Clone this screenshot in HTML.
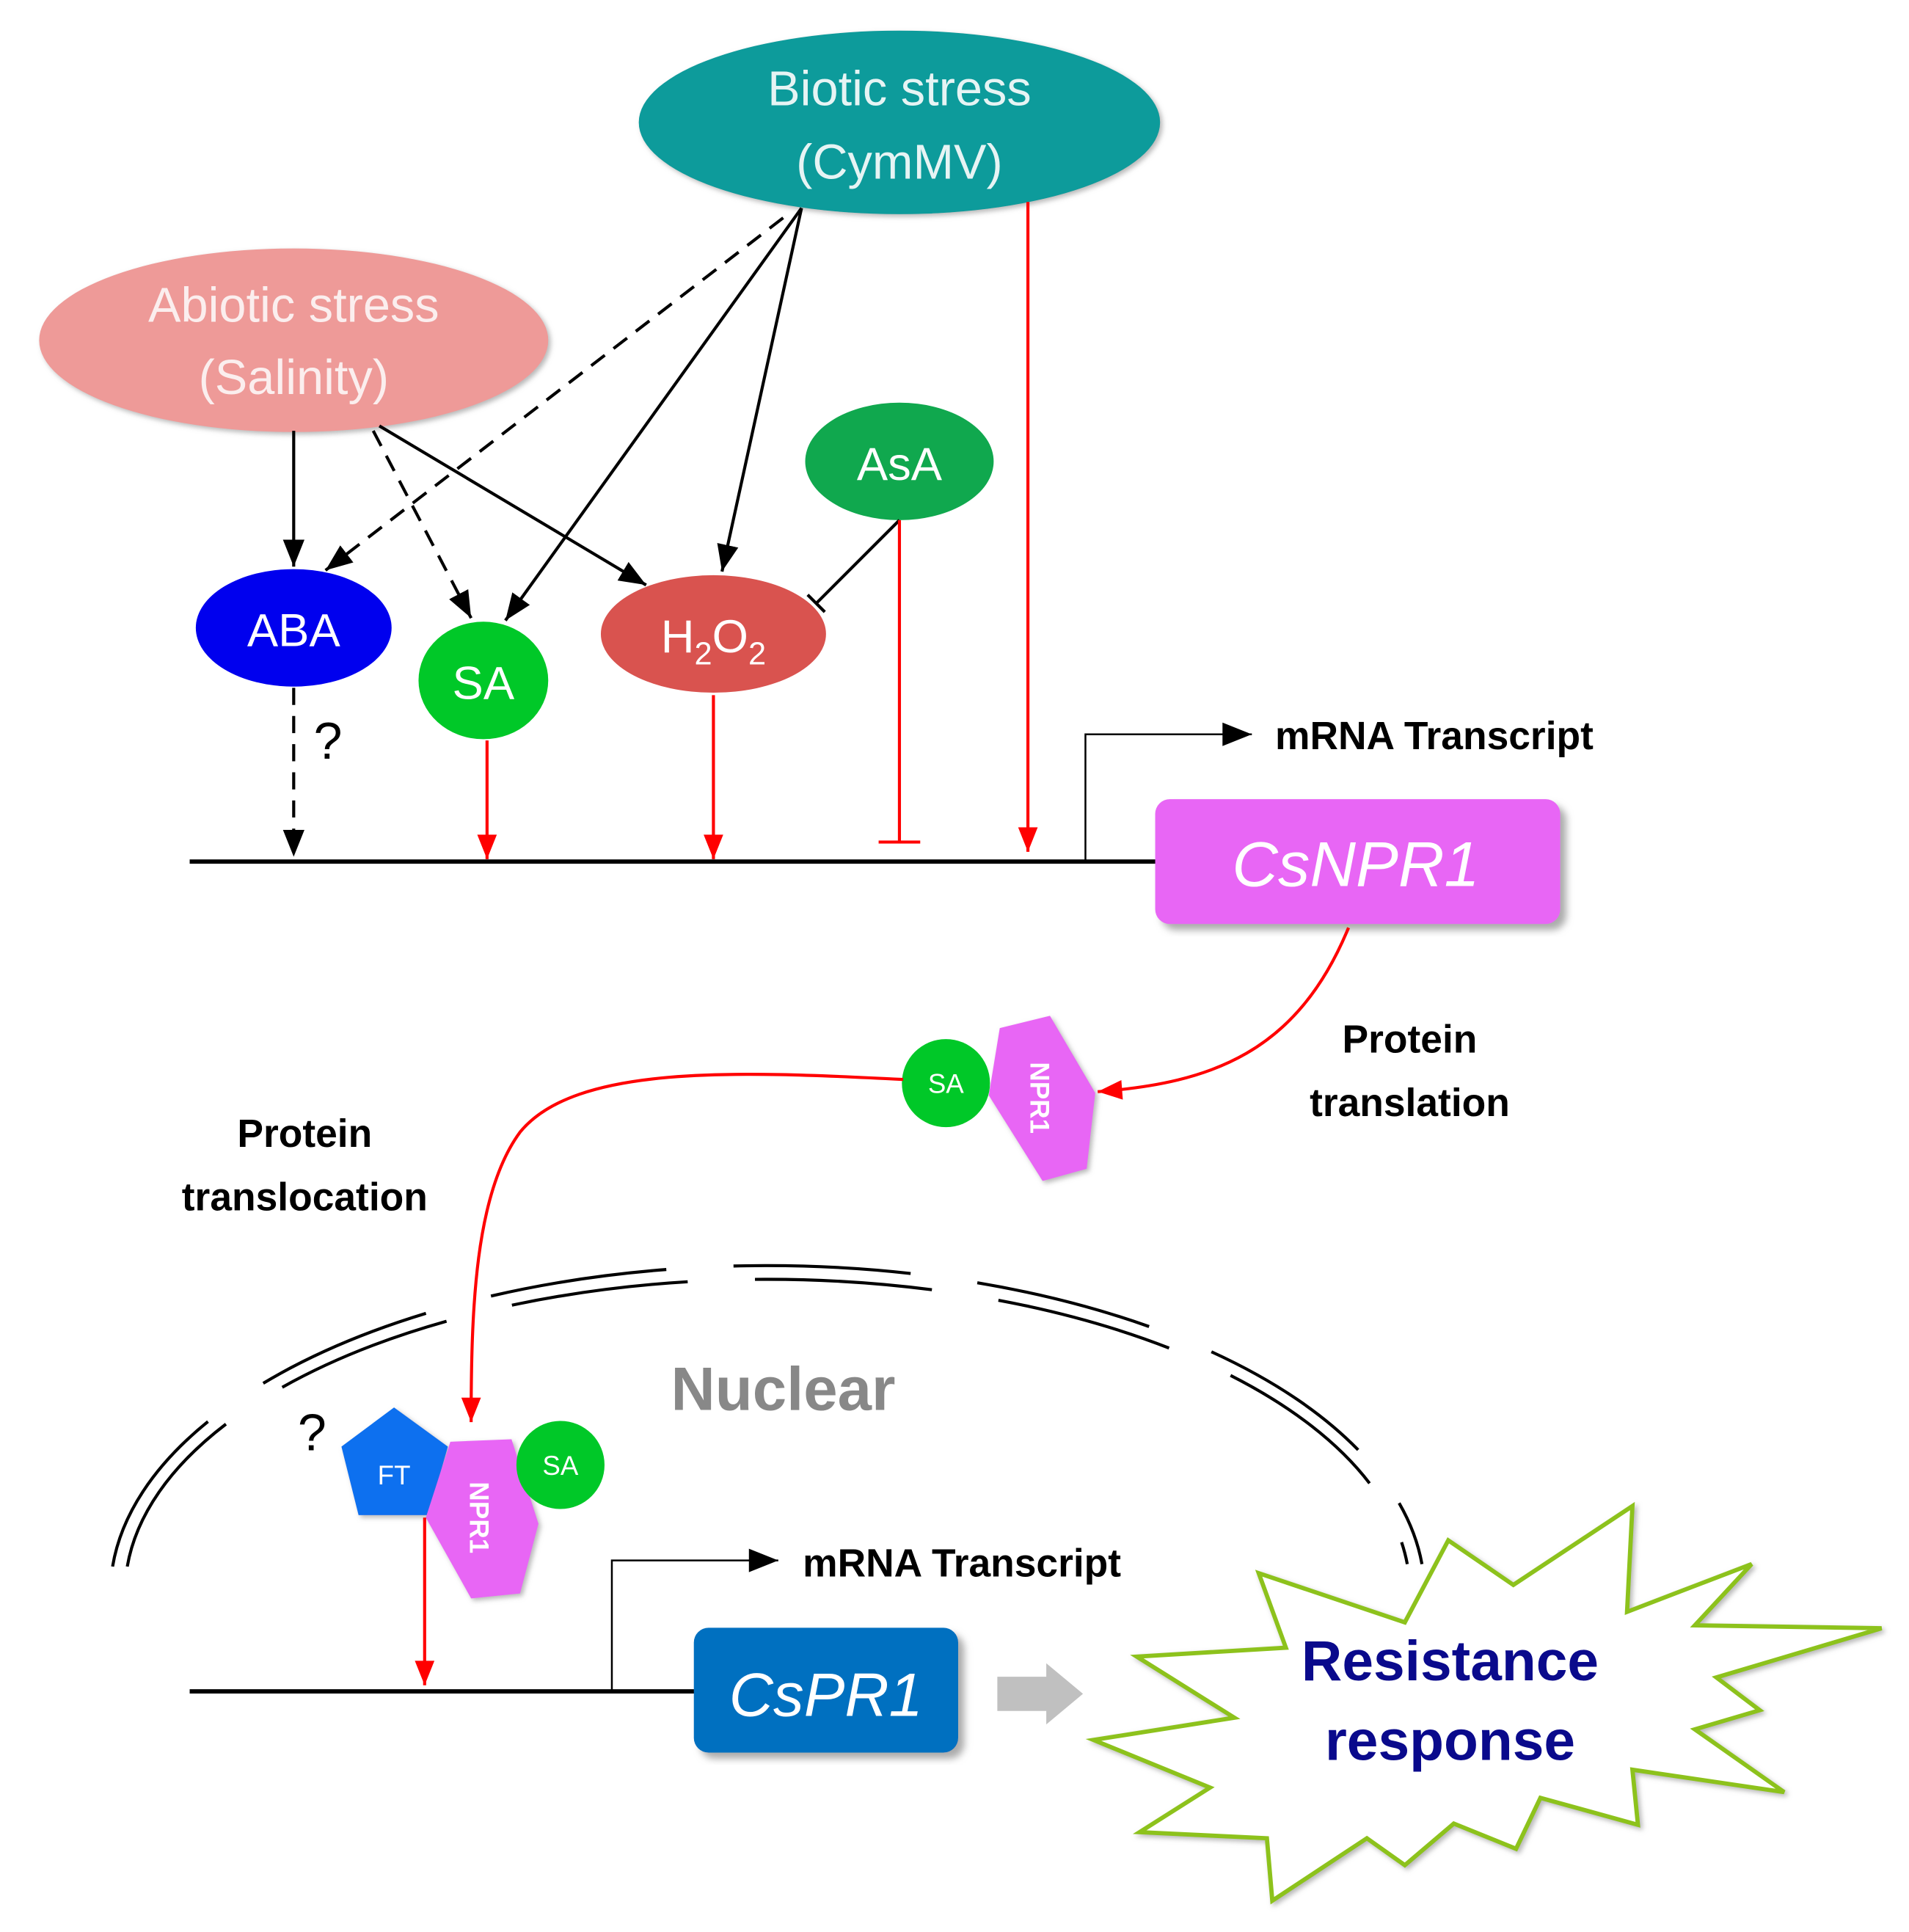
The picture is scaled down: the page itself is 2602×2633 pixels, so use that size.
<!DOCTYPE html>
<html><head><meta charset="utf-8"><style>html,body{margin:0;padding:0;background:#fff}svg{display:block}</style></head>
<body>
<svg width="2602" height="2633" viewBox="0 0 1560 1578.6" xmlns="http://www.w3.org/2000/svg" font-family="Liberation Sans, sans-serif">
<defs>
<marker id="ab" viewBox="0 0 10 10" refX="10" refY="5" markerWidth="10" markerHeight="12" markerUnits="userSpaceOnUse" orient="auto"><path d="M0,0 L10,5 L0,10 z" fill="#000"/></marker>
<marker id="abk" viewBox="0 0 10 10" refX="10" refY="5" markerWidth="22" markerHeight="22" orient="auto" markerUnits="userSpaceOnUse"><path d="M0,1 L10,5 L0,9 z" fill="#000"/></marker>
<marker id="ar" viewBox="0 0 10 10" refX="10" refY="5" markerWidth="34" markerHeight="20" orient="auto" markerUnits="userSpaceOnUse"><path d="M0,1 L10,5 L0,9 z" fill="#f00"/></marker>
<marker id="abw" viewBox="0 0 10 10" refX="10" refY="5" markerWidth="44" markerHeight="24" orient="auto" markerUnits="userSpaceOnUse"><path d="M0,1 L10,5 L0,9 z" fill="#000"/></marker>
<filter id="sh"><feDropShadow dx="5" dy="5" stdDeviation="3" flood-color="#888" flood-opacity="0.7"/></filter>
<filter id="sh2"><feDropShadow dx="2" dy="2" stdDeviation="2" flood-color="#888" flood-opacity="0.6"/></filter>
</defs>

<!-- ellipses -->
<ellipse cx="735" cy="100" rx="213" ry="75" fill="#0a9b9b" filter="url(#sh2)"/>
<text x="735" y="86" font-size="40" fill="#e6f4f4" text-anchor="middle">Biotic stress</text>
<text x="735" y="146" font-size="40" fill="#e6f4f4" text-anchor="middle">(CymMV)</text>
<ellipse cx="240" cy="278" rx="208" ry="75" fill="#ee9a98" filter="url(#sh2)"/>
<text x="240" y="263" font-size="40" fill="#fbeeee" text-anchor="middle">Abiotic stress</text>
<text x="240" y="322" font-size="40" fill="#fbeeee" text-anchor="middle">(Salinity)</text>
<ellipse cx="735" cy="377" rx="77" ry="48" fill="#10a84e"/>
<text x="735" y="392" font-size="38" fill="#fff" text-anchor="middle">AsA</text>
<ellipse cx="240" cy="513" rx="80" ry="48" fill="#0000ee"/>
<text x="240" y="528" font-size="38" fill="#fff" text-anchor="middle">ABA</text>
<ellipse cx="395" cy="556" rx="53" ry="48" fill="#00c828"/>
<text x="395" y="571" font-size="38" fill="#fff" text-anchor="middle">SA</text>
<ellipse cx="583" cy="518" rx="92" ry="48" fill="#d9534f"/>
<text x="583" y="533" font-size="38" fill="#fff" text-anchor="middle">H<tspan font-size="26" dy="10">2</tspan><tspan dy="-10">O</tspan><tspan font-size="26" dy="10">2</tspan></text>

<!-- black arrows -->
<g stroke="#000" stroke-width="2.5" fill="none">
<line x1="240" y1="352" x2="240" y2="463" marker-end="url(#abk)"/>
<line x1="305" y1="352" x2="385" y2="505" stroke-dasharray="14 9" marker-end="url(#abk)"/>
<line x1="310" y1="348" x2="528" y2="478" marker-end="url(#abk)"/>
<line x1="640" y1="178" x2="266" y2="466" stroke-dasharray="14 9" marker-end="url(#abk)"/>
<line x1="655" y1="170" x2="413" y2="507" marker-end="url(#abk)"/>
<line x1="655" y1="170" x2="590" y2="467" marker-end="url(#abk)"/>
<line x1="735" y1="425" x2="667" y2="493"/>
<line x1="660" y1="486" x2="674" y2="500"/>
<line x1="240" y1="562" x2="240" y2="700" stroke-dasharray="14 9" marker-end="url(#abk)"/>
</g>
<text x="268" y="620" font-size="42" text-anchor="middle">?</text>

<!-- red arrows -->
<g stroke="#f00" stroke-width="2.5" fill="none">
<line x1="735" y1="425" x2="735" y2="688"/>
<line x1="718" y1="688" x2="752" y2="688"/>
<line x1="840" y1="165" x2="840" y2="696" marker-end="url(#ar)"/>
<line x1="398" y1="605" x2="398" y2="702" marker-end="url(#ar)"/>
<line x1="583" y1="568" x2="583" y2="702" marker-end="url(#ar)"/>
</g>

<!-- baseline 1 -->
<line x1="155" y1="704" x2="945" y2="704" stroke="#000" stroke-width="3.5"/>
<polyline points="887,704 887,600 1023,600" fill="none" stroke="#000" stroke-width="1.5" marker-end="url(#abw)"/>
<text x="1042" y="612" font-size="32" font-weight="bold">mRNA Transcript</text>
<rect x="944" y="653" width="331" height="102" rx="12" fill="#e866f5" filter="url(#sh)"/>
<text x="1108" y="724" font-size="52" font-style="italic" fill="#fff" text-anchor="middle">CsNPR1</text>

<!-- translation -->
<path d="M1102,758 C1060,860 990,885 897,892" fill="none" stroke="#f00" stroke-width="2.5" marker-end="url(#ar)"/>
<text x="1152" y="860" font-size="32" font-weight="bold" text-anchor="middle">Protein</text>
<text x="1152" y="912" font-size="32" font-weight="bold" text-anchor="middle">translation</text>
<polygon points="817,840 858,830 895,893 888,955 852,965 808,895" fill="#e866f5" filter="url(#sh2)"/>
<text x="0" y="0" font-size="22" font-weight="bold" fill="#fff" text-anchor="middle" transform="translate(842,897) rotate(90)">NPR1</text>
<circle cx="773" cy="885" r="36" fill="#00c828"/>
<text x="773" y="893" font-size="22" fill="#fff" text-anchor="middle">SA</text>

<!-- translocation -->
<path d="M738,882 C600,875 470,870 425,925 C388,975 385,1070 385,1162" fill="none" stroke="#f00" stroke-width="2.5" marker-end="url(#ar)"/>
<text x="249" y="937" font-size="32" font-weight="bold" text-anchor="middle">Protein</text>
<text x="249" y="989" font-size="32" font-weight="bold" text-anchor="middle">translocation</text>

<!-- nuclear envelope -->
<g fill="none" stroke="#000" stroke-width="2.5" stroke-dasharray="145 55">
<path d="M92,1280 A537,268 0 0 1 1162,1278"/>
<path d="M104,1280 A525,256 0 0 1 1150,1278"/>
</g>
<text x="640" y="1152" font-size="50" font-weight="bold" fill="#888" text-anchor="middle">Nuclear</text>
<text x="255" y="1185" font-size="42" text-anchor="middle">?</text>

<polygon points="322,1150 366,1182 350,1238 293,1238 279,1182" fill="#0a6fef" filter="url(#sh2)"/>
<text x="322" y="1213" font-size="22" fill="#fff" text-anchor="middle">FT</text>
<polygon points="368,1178 418,1176 440,1245 425,1302 385,1306 348,1240" fill="#e866f5" filter="url(#sh2)"/>
<text x="0" y="0" font-size="22" font-weight="bold" fill="#fff" text-anchor="middle" transform="translate(384,1240) rotate(90)">NPR1</text>
<circle cx="458" cy="1197" r="36" fill="#00c828"/>
<text x="458" y="1205" font-size="22" fill="#fff" text-anchor="middle">SA</text>
<line x1="347" y1="1240" x2="347" y2="1377" stroke="#f00" stroke-width="2.5" marker-end="url(#ar)"/>

<!-- baseline 2 -->
<line x1="155" y1="1382" x2="570" y2="1382" stroke="#000" stroke-width="3.5"/>
<polyline points="500,1382 500,1275 636,1275" fill="none" stroke="#000" stroke-width="1.5" marker-end="url(#abw)"/>
<text x="656" y="1288" font-size="32" font-weight="bold">mRNA Transcript</text>
<rect x="567" y="1330" width="216" height="102" rx="12" fill="#0070c0" filter="url(#sh)"/>
<text x="675" y="1402" font-size="50" font-style="italic" fill="#fff" text-anchor="middle">CsPR1</text>
<polygon points="815,1370 855,1370 855,1359 885,1384 855,1409 855,1398 815,1398" fill="#c0c0c0"/>

<!-- starburst -->
<polygon points="1028.6,1285.4 1148,1325.6 1183.5,1258.6 1236.7,1295 1334,1230.6 1329.6,1317 1431.4,1278 1385,1328 1537.6,1330.4 1402.6,1370.6 1438,1397.4 1385,1413 1458,1464.3 1334,1446 1338.5,1491 1258.8,1469 1238.9,1510.6 1188,1490 1148,1524 1117,1502 1039.7,1553 1035.3,1502 931.3,1497 988.8,1460.6 893.6,1421.7 1008.7,1403.5 929,1353.6 1050.8,1346.3" fill="#fff" stroke="#8dc21f" stroke-width="3.5" stroke-linejoin="miter" filter="url(#sh2)"/>
<text x="1185" y="1373" font-size="46" font-weight="bold" fill="#0a0a8c" text-anchor="middle">Resistance</text>
<text x="1185" y="1438" font-size="46" font-weight="bold" fill="#0a0a8c" text-anchor="middle">response</text>
</svg>
</body></html>
